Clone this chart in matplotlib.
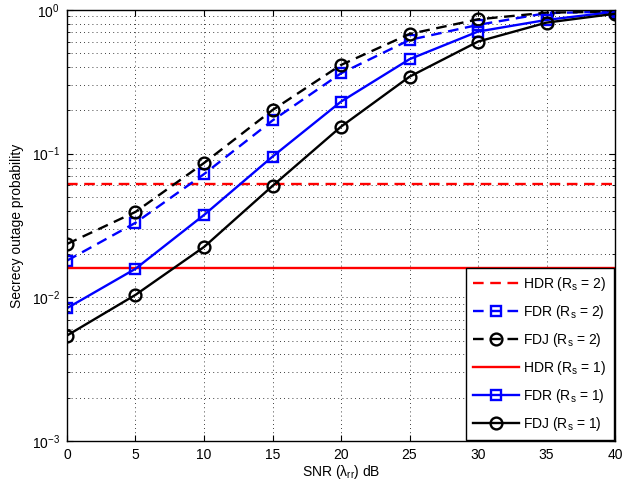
import numpy as np
import matplotlib
matplotlib.use("Agg")
import matplotlib.pyplot as plt
from matplotlib.ticker import LogLocator, NullFormatter

plt.rcParams["font.family"] = ["Liberation Sans", "DejaVu Sans"]
plt.rcParams["mathtext.fontset"] = "custom"
plt.rcParams["mathtext.rm"] = "Liberation Sans"
plt.rcParams["mathtext.it"] = "Liberation Sans"

# SNR values (dB)
snr = [0, 5, 10, 15, 20, 25, 30, 35, 40]

# secrecy outage probability
hdr_rs2 = 0.0612
hdr_rs1 = 0.0159
fdr_rs2 = [0.018, 0.033, 0.072, 0.17, 0.362, 0.618, 0.787, 0.95, 0.975]
fdj_rs2 = [0.0235, 0.0393, 0.086, 0.201, 0.414, 0.68, 0.86, 0.957, 0.973]
fdr_rs1 = [0.0084, 0.0158, 0.0374, 0.0953, 0.230, 0.454, 0.707, 0.852, 0.97]
fdj_rs1 = [0.00542, 0.0104, 0.0224, 0.0596, 0.154, 0.343, 0.602, 0.816, 0.94]

fig = plt.figure(figsize=(6.41, 4.86), dpi=100)
ax = fig.add_axes([0.1045, 0.0926, 0.855, 0.887])

lw = 1.7
dash = (4.5, 2.8)
ax.plot([snr[0], snr[-1]], [hdr_rs2, hdr_rs2], "--", color="red", lw=lw,
        dashes=dash, label=r"HDR (R$_\mathregular{s}$ = 2)")
ax.plot(snr, fdr_rs2, "--", color="blue", lw=lw, dashes=dash, marker="s",
        ms=7, mfc="none", mew=1.7, label=r"FDR (R$_\mathregular{s}$ = 2)")
ax.plot(snr, fdj_rs2, "--", color="black", lw=lw, dashes=dash, marker="o",
        ms=8.5, mfc="none", mew=1.7, label=r"FDJ (R$_\mathregular{s}$ = 2)")
ax.plot([snr[0], snr[-1]], [hdr_rs1, hdr_rs1], "-", color="red", lw=lw,
        label=r"HDR (R$_\mathregular{s}$ = 1)")
ax.plot(snr, fdr_rs1, "-", color="blue", lw=lw, marker="s",
        ms=7, mfc="none", mew=1.7, label=r"FDR (R$_\mathregular{s}$ = 1)")
ax.plot(snr, fdj_rs1, "-", color="black", lw=lw, marker="o",
        ms=8.5, mfc="none", mew=1.7, label=r"FDJ (R$_\mathregular{s}$ = 1)")

ax.set_yscale("log")
ax.set_xlim(0, 40)
ax.set_ylim(1e-3, 1)
ax.set_xticks(np.arange(0, 41, 5))
ax.yaxis.set_major_locator(LogLocator(base=10, numticks=10))
ax.yaxis.set_minor_locator(LogLocator(base=10, subs=np.arange(2, 10), numticks=10))
ax.yaxis.set_minor_formatter(NullFormatter())

ax.grid(True, which="major", linestyle=(0, (1, 4)), color="black", lw=0.6)
ax.grid(True, which="minor", axis="y", linestyle=(0, (1, 4)), color="black", lw=0.6)
ax.tick_params(which="both", direction="in", top=True, right=True, labelsize=10)
ax.tick_params(which="major", length=4, pad=5)
ax.tick_params(which="minor", length=2)
for s in ax.spines.values():
    s.set_linewidth(1)

ax.set_xlabel(r"SNR ($\mathregular{\lambda_{rr}}$) dB", fontsize=10, labelpad=1)
ax.set_ylabel("Secrecy outage probability", fontsize=10, labelpad=6)

leg = ax.legend(loc="lower right", fontsize=10, fancybox=False, framealpha=1,
                edgecolor="black", borderaxespad=0.1, handlelength=3.3,
                labelspacing=0.72, borderpad=0.5, handletextpad=0.35)
leg.get_frame().set_linewidth(1)

fig.savefig("out.png", dpi=100)
